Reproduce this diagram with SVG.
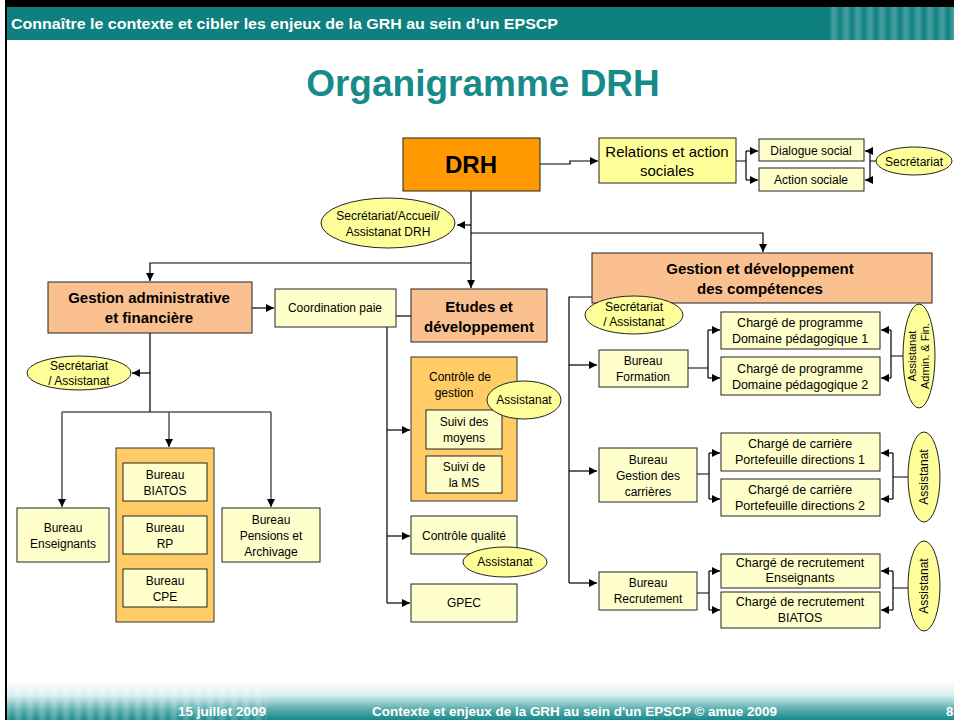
<svg xmlns="http://www.w3.org/2000/svg" width="954" height="720" viewBox="0 0 954 720">
<defs>
<marker id="arr" viewBox="0 0 10 10" refX="10" refY="5" markerWidth="8" markerHeight="8" markerUnits="userSpaceOnUse" orient="auto"><path d="M0,0 L10,5 L0,10 z" fill="#000"/></marker>
<linearGradient id="foot" x1="0" y1="0" x2="0" y2="1"><stop offset="0" stop-color="#ffffff"/><stop offset="0.35" stop-color="#d8eeee"/><stop offset="0.7" stop-color="#5fb0b0"/><stop offset="1" stop-color="#178a8a"/></linearGradient>
<linearGradient id="stripe2" x1="0" y1="0" x2="12" y2="0" gradientUnits="userSpaceOnUse" spreadMethod="repeat"><stop offset="0" stop-color="#ffffff" stop-opacity="0"/><stop offset="0.5" stop-color="#ffffff" stop-opacity="0.25"/><stop offset="1" stop-color="#ffffff" stop-opacity="0"/></linearGradient>
</defs>
<style>
text{font-family:"Liberation Sans",Arial,sans-serif;fill:#000}
.b{font-weight:bold}
.t{font-size:12px;text-anchor:middle}
.t13{font-size:12.5px;text-anchor:middle}
.h{font-size:15px;font-weight:bold;text-anchor:middle}
.ly{fill:#ffffcc;stroke:#222;stroke-width:1}
.y{fill:#ffff99;stroke:#222;stroke-width:1}
.pe{fill:#fac090;stroke:#222;stroke-width:1}
.or{fill:#ffcc66;stroke:#333;stroke-width:1}
.el{fill:#ffff99;stroke:#222;stroke-width:1}
.c{fill:none;stroke:#000;stroke-width:1.2}
.g{fill:none;stroke:#555;stroke-width:1.5}
.a{marker-end:url(#arr)}
</style>
<rect width="954" height="720" fill="#fff"/>
<!-- header -->
<rect x="5" y="0" width="949" height="7" fill="#000"/>
<rect x="7" y="7" width="947" height="33" fill="#0e8080"/>
<rect x="830" y="7" width="124" height="33" fill="url(#stripe2)"/>
<rect x="5" y="0" width="2" height="720" fill="#000"/>
<text x="11" y="29" class="b" style="font-size:14px;fill:#fff" textLength="547" lengthAdjust="spacingAndGlyphs">Connaître le contexte et cibler les enjeux de la GRH au sein d’un EPSCP</text>
<text x="483" y="96" class="b" style="font-size:37px;fill:#178a8a;text-anchor:middle">Organigramme DRH</text>
<!-- footer -->
<rect x="7" y="682" width="947" height="38" fill="url(#foot)"/>
<rect x="7" y="682" width="260" height="38" fill="url(#stripe2)"/>
<text x="178" y="716" class="b" style="font-size:13px;fill:#fff" textLength="88" lengthAdjust="spacingAndGlyphs">15 juillet 2009</text>
<text x="372" y="716" class="b" style="font-size:13px;fill:#fff" textLength="405" lengthAdjust="spacingAndGlyphs">Contexte et enjeux de la GRH au sein d'un EPSCP  © amue 2009</text>
<text x="946" y="716" class="b" style="font-size:13px;fill:#fff">8</text>

<g id="connectors">
<path class="c a" d="M540,164 H570 V161 H598"/>
<path class="c" d="M736,161 H746 M746,151 V180"/>
<path class="c a" d="M746,151 H758"/>
<path class="c a" d="M746,180 H758"/>
<path class="c" d="M876,161 H870 M870,151 V180"/>
<path class="c a" d="M870,151 H865"/>
<path class="c a" d="M870,180 H865"/>
<path class="c a" d="M471,191 V288"/>
<path class="c a" d="M471,225 H457"/>
<path class="c a" d="M471,233 H763 V252"/>
<path class="c a" d="M471,263 H150 V281"/>
<path class="c a" d="M252,308 H274"/>
<path class="c" d="M396,316 H411"/>
<path class="c" d="M387,327 V603"/>
<path class="c a" d="M387,430 H410"/>
<path class="c a" d="M387,536 H410"/>
<path class="c a" d="M387,603 H410"/>
<path class="c" d="M150,333 V412 M62,412 H271"/>
<path class="c a" d="M150,373 H132"/>
<path class="g a" d="M62,412 V507"/>
<path class="g a" d="M169,412 V447"/>
<path class="g a" d="M271,412 V507"/>
<path class="c" d="M592,297 H569 V583"/>
<path class="c a" d="M569,365 H597"/>
<path class="c a" d="M569,471 H597"/>
<path class="c a" d="M569,583 H597"/>
<path class="c" d="M688,368 H708 M708,330 V378"/>
<path class="c a" d="M708,330 H720"/>
<path class="c a" d="M708,378 H720"/>
<path class="c" d="M903,356 H891 M891,330 V378"/>
<path class="c a" d="M891,330 H881"/>
<path class="c a" d="M891,378 H881"/>
<path class="c" d="M697,474 H709 M709,453 V499"/>
<path class="c a" d="M709,453 H720"/>
<path class="c a" d="M709,499 H720"/>
<path class="c" d="M908,477 H893 M893,453 V499"/>
<path class="c a" d="M893,453 H881"/>
<path class="c a" d="M893,499 H881"/>
<path class="c" d="M697,593 H709 M709,571 V610"/>
<path class="c a" d="M709,571 H720"/>
<path class="c a" d="M709,610 H720"/>
<path class="c" d="M908,588 H893 M893,571 V610"/>
<path class="c a" d="M893,571 H881"/>
<path class="c a" d="M893,610 H881"/>
</g>

<g id="drh"><rect x="403" y="138" width="137" height="53" fill="#ff9900" stroke="#222"/><text x="471" y="173" class="b" style="font-size:24px;text-anchor:middle">DRH</text></g>
<g id="relations"><rect class="y" x="599" y="138" width="137" height="45"/><text x="667" y="157" style="font-size:15px;text-anchor:middle">Relations et action</text><text x="667" y="176" style="font-size:15px;text-anchor:middle">sociales</text></g>
<g id="dialogue"><rect class="ly" x="759" y="139" width="105" height="22"/><text x="811" y="155" class="t">Dialogue social</text></g>
<g id="actionsoc"><rect class="ly" x="759" y="168" width="105" height="23"/><text x="811" y="184" class="t">Action sociale</text></g>
<g id="secr1"><ellipse class="el" cx="914" cy="161" rx="38" ry="14"/><text x="914" y="166" class="t">Secrétariat</text></g>
<g id="secdrh"><ellipse class="el" cx="388" cy="223" rx="67" ry="25"/><text x="388" y="220" class="t">Secrétariat/Accueil/</text><text x="388" y="236" class="t">Assistanat DRH</text></g>

<g id="gaf"><rect class="pe" x="48" y="282" width="204" height="51"/><text x="149" y="303" class="h">Gestion administrative</text><text x="149" y="323" class="h">et financière</text></g>
<g id="coord"><rect class="ly" x="275" y="289" width="121" height="38"/><text x="335" y="312" class="t">Coordination paie</text></g>
<g id="secgaf"><ellipse class="el" cx="79" cy="373" rx="52" ry="17"/><text x="79" y="370" class="t">Secrétariat</text><text x="79" y="385" class="t">/ Assistanat</text></g>
<g id="benseignants"><rect class="ly" x="17" y="508" width="92" height="54"/><text x="63" y="532" class="t">Bureau</text><text x="63" y="548" class="t">Enseignants</text></g>
<g id="bgroup"><rect class="or" x="116" y="448" width="98" height="174"/>
<g id="biatos"><rect class="ly" x="123" y="463" width="84" height="38"/><text x="165" y="479" class="t">Bureau</text><text x="165" y="495" class="t">BIATOS</text></g>
<g id="rp"><rect class="ly" x="123" y="516" width="84" height="38"/><text x="165" y="532" class="t">Bureau</text><text x="165" y="548" class="t">RP</text></g>
<g id="cpe"><rect class="ly" x="123" y="569" width="84" height="38"/><text x="165" y="585" class="t">Bureau</text><text x="165" y="601" class="t">CPE</text></g>
</g>
<g id="pensions"><rect class="ly" x="222" y="508" width="98" height="54"/><text x="271" y="524" class="t">Bureau</text><text x="271" y="540" class="t">Pensions et</text><text x="271" y="556" class="t">Archivage</text></g>

<g id="etudes"><rect class="pe" x="411" y="289" width="136" height="53"/><text x="479" y="312" class="h">Etudes et</text><text x="479" y="332" class="h">développement</text></g>
<g id="cgestion"><rect class="or" x="411" y="357" width="106" height="144"/><text x="460" y="381" class="t">Contrôle de</text><text x="454" y="397" class="t">gestion</text>
<g id="moyens"><rect class="ly" x="426" y="410" width="76" height="39"/><text x="464" y="426" class="t">Suivi des</text><text x="464" y="442" class="t">moyens</text></g>
<g id="ms"><rect class="ly" x="426" y="456" width="76" height="37"/><text x="464" y="471" class="t">Suivi de</text><text x="464" y="487" class="t">la MS</text></g>
</g>
<g id="asscg"><ellipse class="el" cx="524" cy="400" rx="37" ry="19"/><text x="524" y="404" class="t">Assistanat</text></g>
<g id="cqualite"><rect class="ly" x="411" y="516" width="106" height="38"/><text x="464" y="540" class="t">Contrôle qualité</text></g>
<g id="asscq"><ellipse class="el" cx="505" cy="562" rx="42" ry="15"/><text x="505" y="566" class="t">Assistanat</text></g>
<g id="gpec"><rect class="ly" x="411" y="584" width="106" height="38"/><text x="464" y="607" class="t">GPEC</text></g>

<g id="gdc"><rect class="pe" x="592" y="253" width="340" height="50"/><text x="760" y="274" class="h">Gestion et développement</text><text x="760" y="294" class="h">des compétences</text></g>
<g id="secgdc"><ellipse class="el" cx="634" cy="315" rx="49" ry="19"/><text x="634" y="311" class="t">Secrétariat</text><text x="634" y="326" class="t">/ Assistanat</text></g>
<g id="bformation"><rect class="ly" x="599" y="350" width="89" height="37"/><text x="643" y="365" class="t">Bureau</text><text x="643" y="381" class="t">Formation</text></g>
<g id="prog1"><rect class="ly" x="721" y="312" width="159" height="37"/><text x="800" y="327" class="t13">Chargé de programme</text><text x="800" y="343" class="t13">Domaine pédagogique 1</text></g>
<g id="prog2"><rect class="ly" x="721" y="357" width="159" height="38"/><text x="800" y="373" class="t13">Chargé de programme</text><text x="800" y="389" class="t13">Domaine pédagogique 2</text></g>
<g id="assaf"><ellipse class="el" cx="919" cy="356" rx="16" ry="52"/><text transform="translate(919,356) rotate(-90)" x="0" y="-3" style="font-size:11px;text-anchor:middle">Assistanat</text><text transform="translate(919,356) rotate(-90)" x="0" y="10" style="font-size:11px;text-anchor:middle">Admin. &amp; Fin.</text></g>
<g id="bcarrieres"><rect class="ly" x="599" y="448" width="98" height="54"/><text x="648" y="464" class="t">Bureau</text><text x="648" y="480" class="t">Gestion des</text><text x="648" y="496" class="t">carrières</text></g>
<g id="car1"><rect class="ly" x="721" y="433" width="159" height="38"/><text x="800" y="448" class="t13">Chargé de carrière</text><text x="800" y="464" class="t13">Portefeuille directions 1</text></g>
<g id="car2"><rect class="ly" x="721" y="479" width="159" height="37"/><text x="800" y="494" class="t13">Chargé de carrière</text><text x="800" y="510" class="t13">Portefeuille directions 2</text></g>
<g id="asscar"><ellipse class="el" cx="924" cy="477" rx="16" ry="45"/><text transform="translate(924,477) rotate(-90)" x="0" y="4" class="t">Assistanat</text></g>
<g id="brecrut"><rect class="ly" x="599" y="572" width="98" height="38"/><text x="648" y="587" class="t">Bureau</text><text x="648" y="603" class="t">Recrutement</text></g>
<g id="rec1"><rect class="ly" x="721" y="554" width="159" height="34"/><text x="800" y="567" class="t13">Chargé de recrutement</text><text x="800" y="582" class="t13">Enseignants</text></g>
<g id="rec2"><rect class="ly" x="721" y="592" width="159" height="36"/><text x="800" y="606" class="t13">Chargé de recrutement</text><text x="800" y="622" class="t13">BIATOS</text></g>
<g id="assrec"><ellipse class="el" cx="924" cy="586" rx="16" ry="45"/><text transform="translate(924,586) rotate(-90)" x="0" y="4" class="t">Assistanat</text></g>
</svg>
